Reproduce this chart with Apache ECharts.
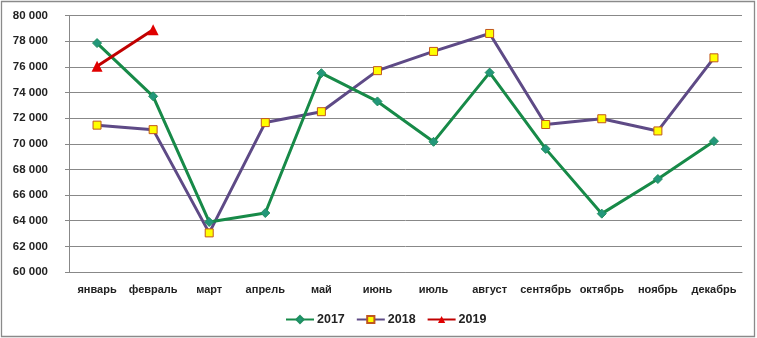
<!DOCTYPE html>
<html>
<head>
<meta charset="utf-8">
<script src="https://cdn.jsdelivr.net/npm/echarts@6/dist/echarts.min.js"></script>
<style>html,body{margin:0;padding:0;background:#fff}#c{width:757px;height:338px}</style>
</head>
<body>
<div id="c"></div>
<script>
const categories = ['январь','февраль','март','апрель','май','июнь','июль','август','сентябрь','октябрь','ноябрь','декабрь'];
const values2017 = [77850, 73700, 63900, 64600, 75500, 73300, 70150, 75550, 69600, 64550, 67250, 70200];
const values2018 = [71450, 71100, 63050, 71650, 72500, 75700, 77200, 78600, 71500, 71950, 71000, 76700];
const values2019 = [76050, 78880];
const seriesNames = ['2017','2018','2019'];

const chart = echarts.init(document.getElementById('c'), null, {renderer:'canvas'});
const fontFam = '"Liberation Sans", Arial, sans-serif';
chart.setOption({
  animation: false,
  backgroundColor: '#fff',
  graphic: {
    elements: [{
      type: 'rect', x: 0, y: 0, silent: true, z: 100,
      shape: { x: 1.5, y: 1.5, width: 753, height: 335 },
      style: { fill: null, stroke: '#8a8a8a', lineWidth: 1.3 }
    }]
  },
  grid: { left: 69, right: 15, top: 15.5, bottom: 66, containLabel: false },
  legend: {
    left: 280, top: 308,
    itemWidth: 28, itemHeight: 9, itemGap: 11,
    textStyle: { fontFamily: fontFam, fontWeight: 'bold', fontSize: 12.5, color: '#222', padding: [0,0,0,-2] },
    data: seriesNames
  },
  xAxis: {
    type: 'category',
    data: categories,
    boundaryGap: true,
    axisLine: { lineStyle: { color: '#888', width: 1 } },
    axisTick: { length: 5, lineStyle: { color: '#888' } },
    axisLabel: { margin: 12, fontFamily: fontFam, fontWeight: 'bold', fontSize: 11, color: '#222', interval: 0 }
  },
  yAxis: {
    type: 'value',
    min: 60000, max: 80000, interval: 2000,
    axisLine: { show: true, lineStyle: { color: '#888', width: 1 } },
    axisTick: { show: true, length: 4, lineStyle: { color: '#888' } },
    splitLine: { lineStyle: { color: '#888', width: 1 } },
    axisLabel: {
      margin: 21, fontFamily: fontFam, fontWeight: 'bold', fontSize: 11.5, color: '#222',
      formatter: v => String(v).replace(/\B(?=(\d{3})+(?!\d))/g, ' ')
    }
  },
  series: [
    {
      name: seriesNames[0], type: 'line', data: values2017,
      symbol: 'diamond', symbolSize: 9,
      lineStyle: { color: '#178a48', width: 3 },
      itemStyle: { color: '#23977a', borderColor: '#1f8f60', borderWidth: 1 },
      z: 3
    },
    {
      name: seriesNames[1], type: 'line', data: values2018,
      symbol: 'rect', symbolSize: 8,
      lineStyle: { color: '#5e4a86', width: 3 },
      itemStyle: { color: '#ffff00', borderColor: '#c0561e', borderWidth: 1 },
      z: 2
    },
    {
      name: seriesNames[2], type: 'line', data: values2019,
      symbol: 'triangle', symbolSize: 11,
      lineStyle: { color: '#c00000', width: 3 },
      itemStyle: { color: '#e00000', borderColor: '#e00000', borderWidth: 0 },
      z: 4
    }
  ]
});
</script>
</body>
</html>
